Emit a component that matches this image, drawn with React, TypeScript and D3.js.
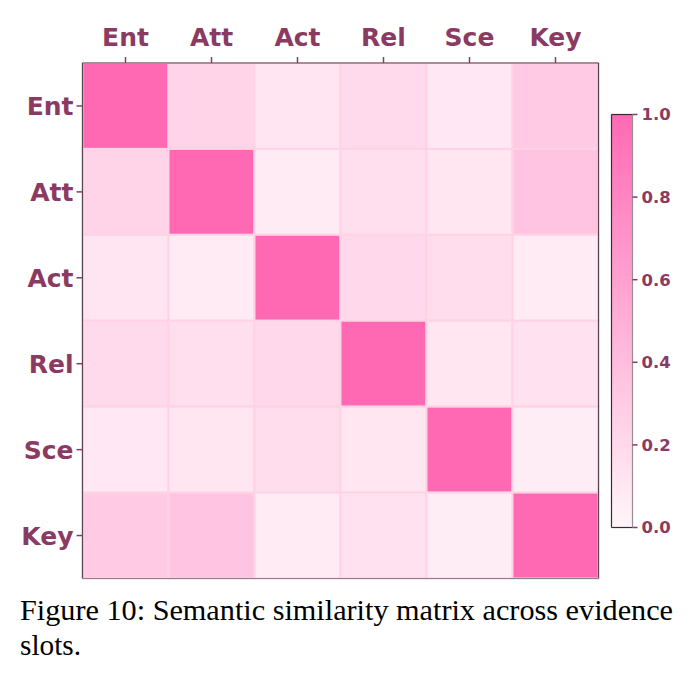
import * as d3 from "d3";
import * as React from "react";

const slots = ["Ent", "Att", "Act", "Rel", "Sce", "Key"];

// upper triangle, mirrored below
const rowEnt = [1.0, 0.24, 0.12, 0.19, 0.09, 0.31];
const rowAtt = [0.24, 1.0, 0.07, 0.16, 0.11, 0.35];
const rowAct = [0.12, 0.07, 1.0, 0.21, 0.17, 0.07];
const rowRel = [0.19, 0.16, 0.21, 1.0, 0.11, 0.14];
const rowSce = [0.09, 0.11, 0.17, 0.11, 1.0, 0.06];
const rowKey = [0.31, 0.35, 0.07, 0.14, 0.06, 1.0];

const cbTicks = [0.0, 0.2, 0.4, 0.6, 0.8, 1.0];

const captionLines = [
  "Figure 10: Semantic similarity matrix across evidence",
  "slots.",
];

const labelColor = "#8b3a62";
const sans = "'DejaVu Sans', sans-serif";
const serif = "'Liberation Serif', 'Times New Roman', serif";

export default function App() {
  const matrix = [rowEnt, rowAtt, rowAct, rowRel, rowSce, rowKey];
  const left = 82.5,
    top = 63,
    right = 598.5,
    bottom = 578.5;

  const x = d3.scaleBand().domain(slots).range([left, right]);
  const y = d3.scaleBand().domain(slots).range([top, bottom]);
  const color = d3
    .scaleLinear<string>()
    .domain([0, 1])
    .range(["#fff5f9", "#ff69b4"])
    .interpolate(d3.interpolateRgb);

  const cbX = 611.5,
    cbW = 21,
    cbTop = 114.5,
    cbBottom = 527.5;
  const cbY = d3.scaleLinear().domain([0, 1]).range([cbBottom, cbTop]);

  const cells = [];
  matrix.forEach((row, i) =>
    row.forEach((v, j) => cells.push({ r: slots[i], c: slots[j], v }))
  );

  return (
    <svg
      width={698}
      height={677}
      style={{ position: "absolute", left: 0, top: 0, background: "#fff" }}
    >
      <defs>
        <linearGradient id="cb" x1="0" y1="1" x2="0" y2="0">
          {d3.range(0, 1.01, 0.1).map((t) => (
            <stop key={t} offset={t} stopColor={color(t)} />
          ))}
        </linearGradient>
      </defs>

      {cells.map((d) => (
        <rect
          key={d.r + d.c}
          x={x(d.c)}
          y={y(d.r)}
          width={x.bandwidth()}
          height={y.bandwidth()}
          fill={color(d.v)}
          stroke="#ffd3e3"
          strokeWidth={2}
        />
      ))}

      {/* frame */}
      <line x1={left} x2={right} y1={top} y2={top} stroke="#5a4450" strokeWidth={1.2} />
      <line x1={left} x2={left} y1={top} y2={bottom} stroke="#5a4450" strokeWidth={1.2} />
      <line x1={right} x2={right} y1={top} y2={bottom} stroke="#5a4450" strokeWidth={1.2} />
      <line x1={left} x2={right} y1={bottom} y2={bottom} stroke="#8a8088" strokeWidth={1.2} />

      {/* top axis */}
      {slots.map((s) => {
        const cx = x(s) + x.bandwidth() / 2;
        return (
          <g key={"t" + s}>
            <line x1={cx} x2={cx} y1={top - 6} y2={top} stroke={labelColor} strokeWidth={1.5} />
            <text
              x={cx}
              y={46}
              textAnchor="middle"
              fontFamily={sans}
              fontWeight="bold"
              fontSize={25}
              fill={labelColor}
            >
              {s}
            </text>
          </g>
        );
      })}

      {/* left axis */}
      {slots.map((s) => {
        const cy = y(s) + y.bandwidth() / 2;
        return (
          <g key={"l" + s}>
            <line x1={left - 6} x2={left} y1={cy} y2={cy} stroke={labelColor} strokeWidth={1.5} />
            <text
              x={left - 9}
              y={cy}
              dy="0.36em"
              textAnchor="end"
              fontFamily={sans}
              fontWeight="bold"
              fontSize={25}
              fill={labelColor}
            >
              {s}
            </text>
          </g>
        );
      })}

      {/* colorbar */}
      <rect x={cbX} y={cbTop} width={cbW} height={cbBottom - cbTop} fill="url(#cb)" />
      <line x1={cbX} x2={cbX + cbW} y1={cbTop} y2={cbTop} stroke="#3a2a32" strokeWidth={1.2} />
      <line x1={cbX} x2={cbX} y1={cbTop} y2={cbBottom} stroke="#3a2a32" strokeWidth={1.2} />
      <line x1={cbX} x2={cbX + cbW} y1={cbBottom} y2={cbBottom} stroke="#3a2a32" strokeWidth={1.2} />
      <line x1={cbX + cbW} x2={cbX + cbW} y1={cbTop} y2={cbBottom} stroke="#9a8a92" strokeWidth={1.2} />
      {cbTicks.map((t) => (
        <g key={"cb" + t}>
          <line
            x1={cbX + cbW}
            x2={cbX + cbW + 5}
            y1={cbY(t)}
            y2={cbY(t)}
            stroke={labelColor}
            strokeWidth={1.5}
          />
          <text
            x={cbX + cbW + 9}
            y={cbY(t)}
            dy="0.36em"
            fontFamily={sans}
            fontWeight="bold"
            fontSize={16.5}
            fill={labelColor}
          >
            {d3.format(".1f")(t)}
          </text>
        </g>
      ))}

      {/* caption */}
      <text
        x={20}
        y={620}
        fontFamily={serif}
        fontSize={30}
        fill="#000"
        textLength={653}
        lengthAdjust="spacingAndGlyphs"
      >
        {captionLines[0]}
      </text>
      <text
        x={20}
        y={655}
        fontFamily={serif}
        fontSize={30}
        fill="#000"
        textLength={61}
        lengthAdjust="spacingAndGlyphs"
      >
        {captionLines[1]}
      </text>
    </svg>
  );
}
